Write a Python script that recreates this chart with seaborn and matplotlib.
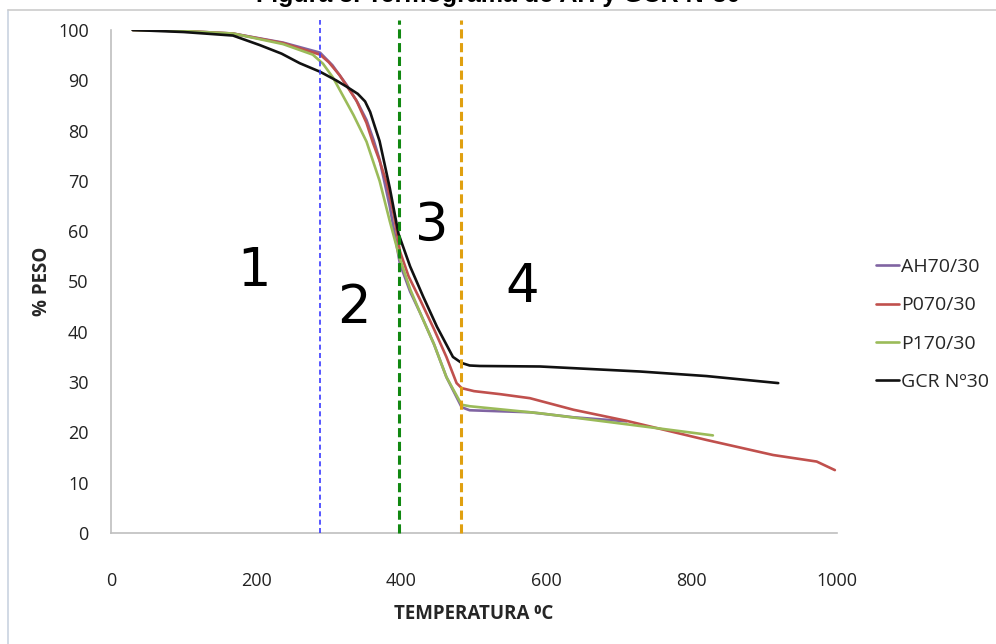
import numpy as np
import pandas as pd
import seaborn as sns
import matplotlib
matplotlib.use("Agg")
import matplotlib.pyplot as plt
from matplotlib.lines import Line2D

# Thermogravimetric curves: temperature (°C) vs remaining weight (%)
ah_t = [30, 100, 168, 237, 288, 305, 325, 340, 352, 362, 370, 384, 398, 412, 426, 445, 462, 483, 494, 577, 637, 710]
ah_w = [100, 99.8, 99.3, 97.5, 95.5, 93.0, 89.0, 85.5, 82.1, 78.0, 74.2, 64.9, 53.5, 48.0, 43.7, 37.5, 31.0, 25.0, 24.4, 24.0, 23.0, 22.2]

p0_t = [30, 100, 168, 237, 288, 300, 315, 338, 352, 361, 370, 380, 390, 398, 410, 426, 445, 462, 476, 483, 500, 536, 577, 637, 710, 820, 912, 972, 997]
p0_w = [100, 99.8, 99.3, 97.4, 95.1, 93.6, 91.0, 86.0, 81.5, 77.5, 74.0, 69.5, 63.0, 56.0, 51.0, 46.3, 40.5, 35.0, 29.8, 28.8, 28.2, 27.6, 26.8, 24.5, 22.3, 18.5, 15.5, 14.2, 12.5]

p1_t = [30, 100, 168, 237, 278, 292, 306, 320, 334, 352, 370, 384, 398, 412, 426, 445, 462, 483, 494, 591, 738, 829]
p1_w = [100, 99.8, 99.3, 97.2, 95.1, 93.3, 90.5, 86.8, 83.1, 77.8, 70.0, 62.0, 54.5, 48.5, 43.7, 37.5, 31.0, 25.5, 25.2, 23.8, 21.1, 19.4]

gcr_t = [30, 100, 168, 205, 235, 260, 288, 310, 325, 340, 350, 357, 363, 370, 384, 396, 412, 430, 449, 471, 483, 494, 508, 591, 729, 820, 919]
gcr_w = [100, 99.6, 98.9, 97.0, 95.3, 93.4, 91.7, 90.0, 88.7, 87.3, 85.8, 83.7, 81.0, 77.9, 68.6, 59.5, 53.0, 47.0, 41.0, 35.0, 33.8, 33.3, 33.2, 33.1, 32.1, 31.2, 29.8]

series_names = ["AH70/30", "P070/30", "P170/30", "GCR Nº30"]
series_colors = ["#8064A2", "#C0504D", "#9BBB59", "#111111"]

# Stage boundaries and stage labels
stage_bounds = [288, 397, 482]
stage_colors = ["#3a3aff", "#118811", "#E0A010"]
stage_labels = ["1", "2", "3", "4"]
stage_label_x = [197, 335, 442, 566]
stage_label_y = [52, 44.7, 61, 49]

x_ticks = [0, 200, 400, 600, 800, 1000]
y_ticks = [0, 10, 20, 30, 40, 50, 60, 70, 80, 90, 100]

frames = []
for name, t, w in zip(series_names, [ah_t, p0_t, p1_t, gcr_t], [ah_w, p0_w, p1_w, gcr_w]):
    frames.append(pd.DataFrame({"T": t, "W": w, "serie": name}))
df = pd.concat(frames, ignore_index=True)

sns.set_theme(style="white")
plt.rcParams["font.family"] = ["Open Sans", "DejaVu Sans"]

fig = plt.figure(figsize=(9.96, 6.44), dpi=100)
ax = fig.add_axes([0.1114, 0.1724, 0.7290, 0.7810])

# page title running off the top edge
fig.text(0.50, 1 - 2 / 644, "Figura 3. Termograma de AH y GCR Nº30", ha="center",
         va="baseline", fontsize=18, fontweight="bold",
         family=["Liberation Sans", "DejaVu Sans"], color="black")

# outer frame lines (left and top)
fig.add_artist(Line2D([8 / 996, 8 / 996], [0, 1 - 10 / 644], transform=fig.transFigure,
                      color="#c9d3e0", linewidth=1.2))
fig.add_artist(Line2D([8 / 996, 1], [1 - 10 / 644, 1 - 10 / 644], transform=fig.transFigure,
                      color="#cccccc", linewidth=1.2))

for name, col in zip(series_names, series_colors):
    sub = df[df["serie"] == name]
    sns.lineplot(data=sub, x="T", y="W", ax=ax, color=col, linewidth=1.9,
                 sort=False, label=name, estimator=None)

# stage boundary lines
ax.vlines(stage_bounds[0], 0, 102, colors=stage_colors[0], linestyles=(0, (3, 2)),
          linewidth=1.2, clip_on=False, zorder=3)
ax.vlines(stage_bounds[1], 0, 102, colors=stage_colors[1], linestyles=(0, (3, 1.5)),
          linewidth=2.2, clip_on=False, zorder=3)
ax.vlines(stage_bounds[2], 0, 102, colors=stage_colors[2], linestyles=(0, (3, 1.5)),
          linewidth=2.2, clip_on=False, zorder=3)

for lab, lx, ly in zip(stage_labels, stage_label_x, stage_label_y):
    ax.text(lx, ly, lab, fontsize=38, ha="center", va="center", color="black",
            family=["DejaVu Sans"])

ax.set_xlim(0, 1000)
ax.set_ylim(0, 100)
ax.set_xticks(x_ticks)
ax.set_yticks(y_ticks)
ax.tick_params(axis="x", length=0, pad=28, labelsize=13, colors="#222222")
ax.tick_params(axis="y", length=0, pad=16, labelsize=13, colors="#222222")

for s in ["top", "right"]:
    ax.spines[s].set_visible(False)
for s in ["left", "bottom"]:
    ax.spines[s].set_color("#bfbfbf")
    ax.spines[s].set_linewidth(1.2)

ax.set_xlabel("TEMPERATURA ⁰C", fontsize=13.5, fontweight="bold", labelpad=10)
ax.set_ylabel("% PESO", fontsize=13.5, fontweight="bold", labelpad=4)

ax.get_legend().remove()
handles, labels = ax.get_legend_handles_labels()
fig.legend(handles, labels, loc="center left", bbox_to_anchor=(0.862, 0.496),
           frameon=False, fontsize=14, handlelength=1.2, handletextpad=0.1,
           labelspacing=1.05)

fig.savefig("out.png", dpi=100)
